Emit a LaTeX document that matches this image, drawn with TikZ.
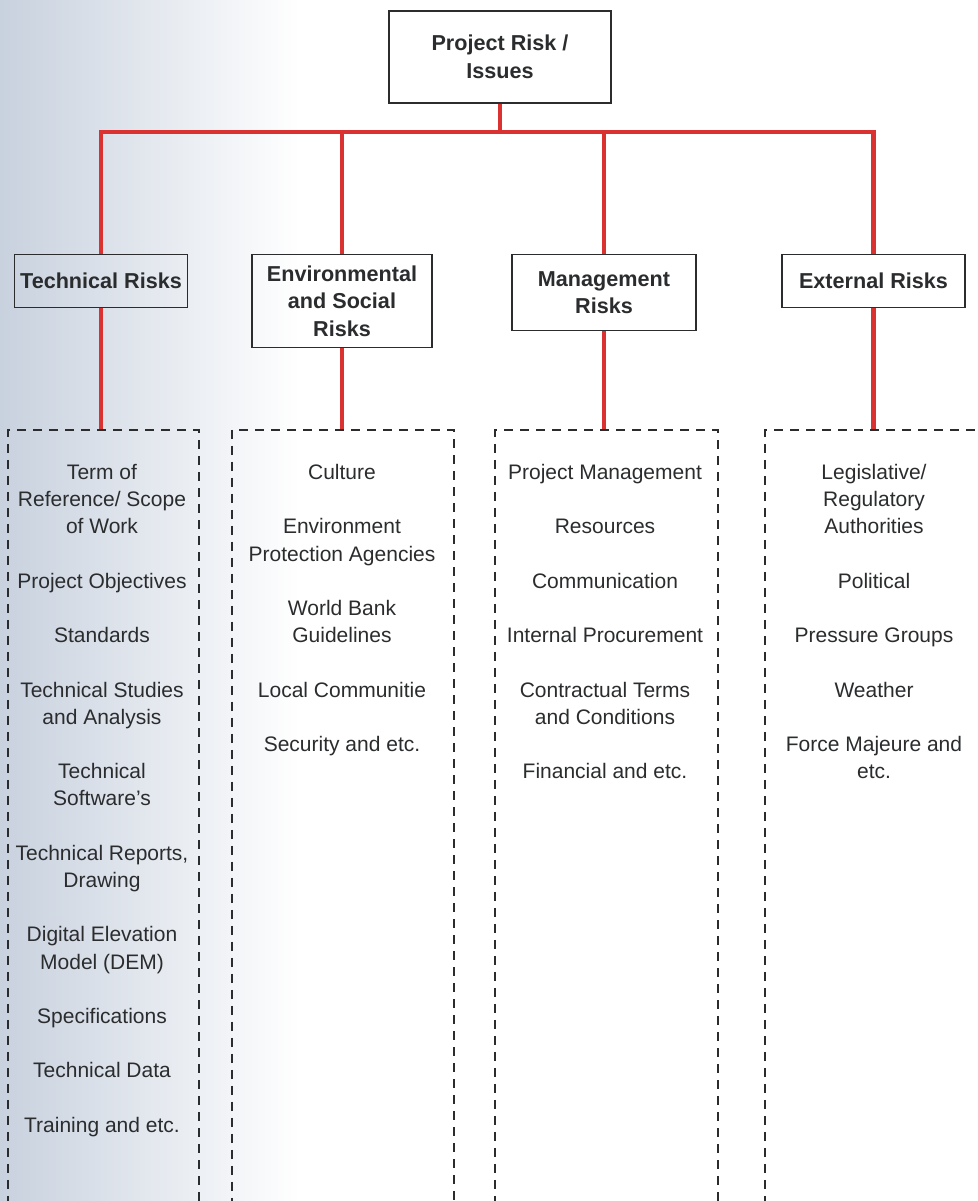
\documentclass[tikz,border=0pt]{standalone}
\usepackage{fontspec}
\setmainfont{Liberation Sans}
\usetikzlibrary{positioning}
\definecolor{rred}{RGB}{218, 50, 48}
\definecolor{rink}{RGB}{42, 44, 46}
\definecolor{rscan}{RGB}{200, 209, 222}

\begin{document}
\begin{tikzpicture}[
    x=1pt, y=-1pt,
    headbox/.style={draw=rink, line width=1.4pt, text=rink, font=\fontsize{21.6}{27.5}\selectfont\bfseries, align=center, inner sep=0pt},
    catbox/.style={headbox, anchor=north, minimum height=53},
    listframe/.style={draw=rink, line width=1.5pt, dash pattern=on 9pt off 7pt, anchor=north west, minimum width=222, minimum height=820, inner sep=0pt},
    listtext/.style={text=rink, font=\fontsize{21}{27.2}\selectfont, align=center, anchor=north, inner sep=0pt},
    riskline/.style={draw=rred, line width=4.5pt},
]
    \useasboundingbox (0,0) rectangle (977,1201);
    \clip (0,0) rectangle (977,1201);
    \fill[white] (0,0) rectangle (977,1201);
    \shade[left color=rscan, middle color=rscan!40!white, right color=white] (0,0) rectangle (300,1201);

    % Root
    \node[headbox, minimum width=222, minimum height=92] (top) at (500,57) {Project Risk /\\Issues};
    \coordinate (bus) at (500,132);

    % Risk categories
    \node[catbox, minimum width=173] (tech) at (101,254) {Technical Risks};
    \node[catbox, minimum width=180, minimum height=93] (env) at (342,254) {Environmental\\and Social\\Risks};
    \node[catbox, minimum width=184, minimum height=76] (mgmt) at (604,254) {Management\\Risks};
    \node[catbox, minimum width=183] (ext) at (873.5,254) {External Risks};

    % Dashed lists
    \node[listframe, minimum width=191] (techframe) at (7,429) {};
    \node[listframe] (envframe) at (231,429) {};
    \node[listframe, minimum width=223] (mgmtframe) at (494,429) {};
    \node[listframe, minimum width=223] (extframe) at (764,429) {};

    \node[listtext] (techlist) at (102,464) {Term of\\Reference/ Scope\\of Work\\[27.2pt]Project Objectives\\[27.2pt]Standards\\[27.2pt]Technical Studies\\and Analysis\\[27.2pt]Technical\\Software’s\\[27.2pt]Technical Reports,\\Drawing\\[27.2pt]Digital Elevation\\Model (DEM)\\[27.2pt]Specifications\\[27.2pt]Technical Data\\[27.2pt]Training and etc.};
    \node[listtext] (envlist) at (342,464) {Culture\\[27.2pt]Environment\\Protection Agencies\\[27.2pt]World Bank\\Guidelines\\[27.2pt]Local Communitie\\[27.2pt]Security and etc.};
    \node[listtext] (mgmtlist) at (605,464) {Project Management\\[27.2pt]Resources\\[27.2pt]Communication\\[27.2pt]Internal Procurement\\[27.2pt]Contractual Terms\\and Conditions\\[27.2pt]Financial and etc.};
    \node[listtext] (extlist) at (874,464) {Legislative/\\Regulatory\\Authorities\\[27.2pt]Political\\[27.2pt]Pressure Groups\\[27.2pt]Weather\\[27.2pt]Force Majeure and\\etc.};

    % Connectors
    \draw[riskline] (top.south) -- (bus);
    \draw[riskline] (tech.north) |- (ext.north |- bus) -- (ext.north);
    \draw[riskline] (env.north) -- (env.north |- bus);
    \draw[riskline] (mgmt.north) -- (mgmt.north |- bus);
    \draw[riskline] (tech.south) -- (tech.south |- techframe.north);
    \draw[riskline] (env.south) -- (env.south |- envframe.north);
    \draw[riskline] (mgmt.south) -- (mgmt.south |- mgmtframe.north);
    \draw[riskline] (ext.south) -- (ext.south |- extframe.north);
\end{tikzpicture}
\end{document}
